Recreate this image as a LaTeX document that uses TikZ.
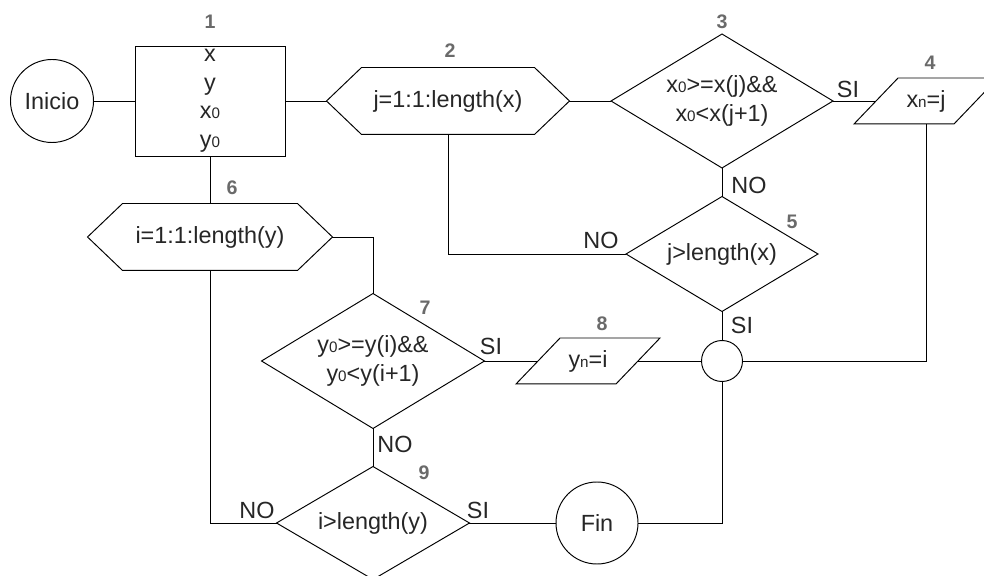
\documentclass[tikz,border=0pt]{standalone}
\usepackage{fontspec}
\setmainfont{Liberation Sans}
\definecolor{ink}{HTML}{262626}
\definecolor{numgray}{HTML}{6A6A6A}
% small digit/letter set on the baseline, as in x0, yn
\newcommand\lowsub[1]{{\fontsize{7.6}{8}\selectfont #1}}
% outlines drawn from the anchors of an (invisible) rectangular node
\newcommand\hexoutline[2]{\draw ([xshift=#2]#1.north west) -- ([xshift=-#2]#1.north east) -- (#1.east)
  -- ([xshift=-#2]#1.south east) -- ([xshift=#2]#1.south west) -- (#1.west) -- cycle;}
\newcommand\diaoutline[1]{\draw (#1.north) -- (#1.east) -- (#1.south) -- (#1.west) -- cycle;}
\newcommand\paraoutline[2]{\draw ([xshift=#2]#1.north west) -- (#1.north east)
  -- ([xshift=-#2]#1.south east) -- (#1.south west) -- cycle;}
\begin{document}
\begin{tikzpicture}[x=0.5pt,y=-0.5pt,line width=0.48pt,line join=miter,
  every node/.style={font=\fontsize{11.7}{14.1}\selectfont,text=ink,inner sep=0pt},
  terminal/.style={draw,circle,minimum size=#1},
  procbox/.style={draw,rectangle,minimum width=75pt,minimum height=55pt,align=center},
  frame/.style 2 args={rectangle,minimum width=#1,minimum height=#2,align=center},
  num/.style={font=\fontsize{9.8}{11}\selectfont\bfseries,text=numgray},
  branch/.style={}
]
\useasboundingbox (0,0) rectangle (984,576);
\clip (0,0) rectangle (984,576);

% start, data block and outer loop
\node[terminal=41.5pt] (inicio) at (52,101) {Inicio};
\node[procbox,font=\fontsize{11.7}{14.25}\selectfont] (b1) at (210,101)
  {x\\y\\x\lowsub{0}\\y\lowsub{0}};
\node[frame={121pt}{33pt}] (h2) at (448,101) {j=1:1:length(x)};
\hexoutline{h2}{17.5pt}
\node[frame={110.5pt}{66.5pt}] (d3) at (722,101) {x\lowsub{0}>=x(j)\&\&\\x\lowsub{0}<x(j+1)};
\diaoutline{d3}
\node[frame={71.5pt}{22.5pt}] (p4) at (926,101) {x\lowsub{n}=j};
\paraoutline{p4}{22pt}
\node[frame={95.5pt}{57pt}] (d5) at (722,254) {j>length(x)};
\diaoutline{d5}
\node[terminal=20.5pt] (k) at (722,361) {};

% inner loop
\node[frame={122pt}{33pt}] (h6) at (210,237) {i=1:1:length(y)};
\hexoutline{h6}{17.5pt}
\node[frame={111pt}{67pt}] (d7) at (373,361) {y\lowsub{0}>=y(i)\&\&\\y\lowsub{0}<y(i+1)};
\diaoutline{d7}
\node[frame={71.5pt}{22.5pt}] (p8) at (588,361) {y\lowsub{n}=i};
\paraoutline{p8}{22pt}
\node[frame={96pt}{56pt}] (d9) at (373,523) {i>length(y)};
\diaoutline{d9}
\node[terminal=41pt] (fin) at (597,523) {Fin};

% step numbers
\node[num] (n1) at (210,22) {1};
\node[num] (n2) at (450,51) {2};
\node[num] (n3) at (722,22) {3};
\node[num] (n4) at (930,63) {4};
\node[num] (n5) at (792,222) {5};
\node[num] (n6) at (232,188) {6};
\node[num] (n7) at (425,308) {7};
\node[num] (n8) at (602,324) {8};
\node[num] (n9) at (424,473) {9};

% branch labels
\node[branch] (l3si) at (848,89) {SI};
\node[branch] (l3no) at (749,185) {NO};
\node[branch] (l5no) at (601,240) {NO};
\node[branch] (l5si) at (742,325) {SI};
\node[branch] (l7si) at (491,346) {SI};
\node[branch] (l7no) at (395,444) {NO};
\node[branch] (l9no) at (257,510) {NO};
\node[branch] (l9si) at (478,510) {SI};

% connectors
\draw (inicio.east) -- (b1.west);
\draw (b1.east) -- (h2.west);
\draw (h2.east) -- (d3.west);
\draw (d3.east) -- ([xshift=11pt]p4.west);
\draw (p4.south) -- (p4.south |- k.east) -- (k.east);
\draw (d3.south) -- (d5.north);
\draw (d5.west) -- (d5.west -| h2.south) -- (h2.south);
\draw (d5.south) -- (k.north);
\draw (b1.south) -- (h6.north);
\draw (h6.east) -- (h6.east -| d7.north) -- (d7.north);
\draw (h6.south) -- (h6.south |- d9.west) -- (d9.west);
\draw (d7.east) -- ([xshift=11pt]p8.west);
\draw ([xshift=-11pt]p8.east) -- (k.west);
\draw (d7.south) -- (d9.north);
\draw (d9.east) -- (fin.west);
\draw (fin.east) -- (fin.east -| k.south) -- (k.south);
\end{tikzpicture}
\end{document}
